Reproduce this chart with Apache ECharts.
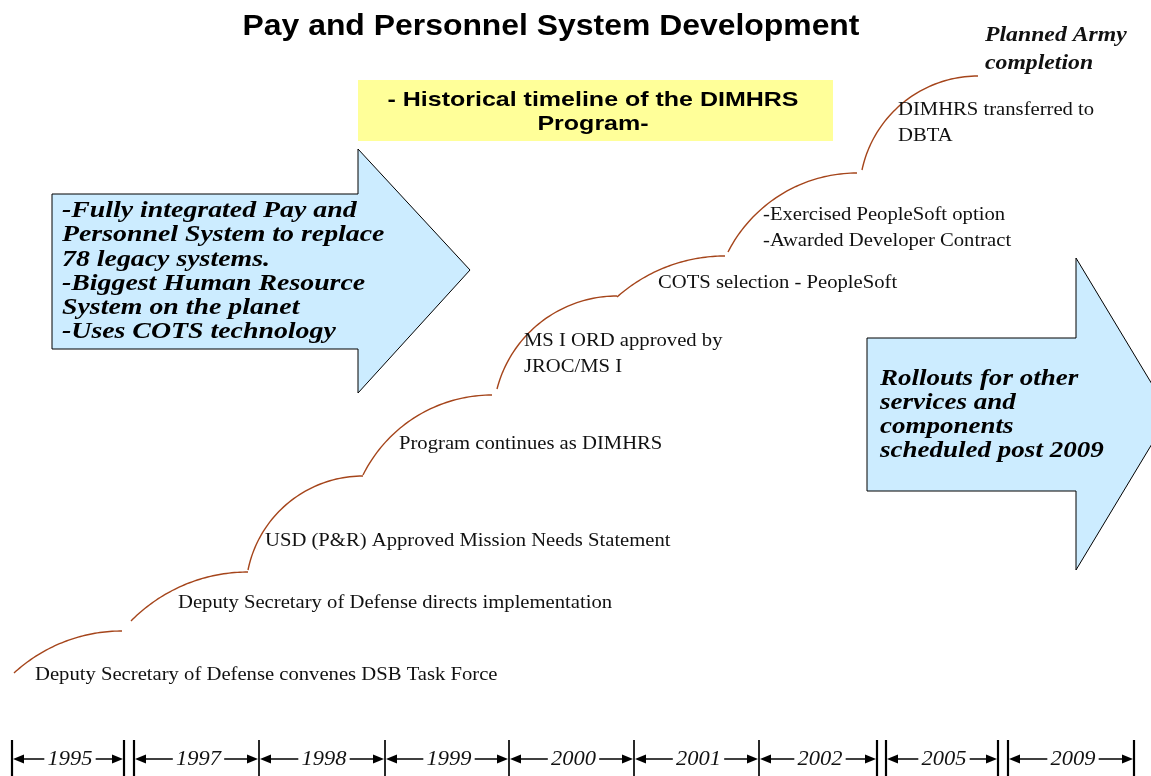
<!DOCTYPE html>
<html>
<head>
<meta charset="utf-8">
<script src="https://cdn.jsdelivr.net/npm/echarts@6/dist/echarts.min.js"></script>
<style>html,body{margin:0;padding:0;background:#fff}#chart{width:1151px;height:776px}</style>
</head>
<body>
<div id="chart"></div>
<script>
// ---- data ----
const years = ['1995', '1997', '1998', '1999', '2000', '2001', '2002', '2005', '2009'];
const yearFrom = [12, 134, 259, 385, 509, 634, 759, 886, 1008];
const yearTo = [124, 259, 385, 509, 634, 759, 877, 998, 1134];

const events = [
  'Deputy Secretary of Defense convenes DSB Task Force',
  'Deputy Secretary of Defense directs implementation',
  'USD (P&R) Approved Mission Needs Statement',
  'Program continues as DIMHRS',
  'MS I ORD approved by\nJROC/MS I',
  'COTS selection - PeopleSoft',
  '-Exercised PeopleSoft option\n-Awarded Developer Contract',
  'DIMHRS transferred to\nDBTA'
];
const eventFrom = [14, 131, 248, 363, 497, 617, 728, 862];
const eventTo = [122, 248, 363, 492, 617, 725, 857, 978];
const levelFrom = [103, 155, 206, 301, 387, 479, 524, 606];
const levelTo = [145, 204, 300, 381, 480, 520, 603, 700];
const finalMilestone = 'Planned Army\ncompletion';

const titleText = 'Pay and Personnel System Development';
const subtitleText = '- Historical timeline of the DIMHRS\nProgram-';
const leftArrowText = '-Fully integrated Pay and\nPersonnel System to replace\n78 legacy systems.\n-Biggest Human Resource\nSystem on the planet\n-Uses COTS technology';
const rightArrowText = 'Rollouts for other\nservices and\ncomponents\nscheduled post 2009';

// ---- layout / style ----
const SERIF = '"Liberation Serif", "DejaVu Serif", serif';
const SANS = '"Liberation Sans", Arial, sans-serif';
const TL_Y = 17, BAR_TOP = 36, BAR_BOTTOM = 0;
const labelOffset = [[21, -2], [47, 18], [17, 29], [36, 31], [27, 35], [41, 14], [35, 24], [36, 47]];
const finalOffset = [7, 26];
const ARC_COLOR = '#A5451B';

const chart = echarts.init(document.getElementById('chart'));

function timelineItem(params, api) {
  const i = params.dataIndex;
  const a = api.coord([api.value(0), TL_Y]);
  const b = api.coord([api.value(1), TL_Y]);
  const top = api.coord([0, BAR_TOP])[1];
  const bot = api.coord([0, BAR_BOTTOM])[1];
  const y = a[1];
  const gapLeft = i === 0 || yearFrom[i] !== yearTo[i - 1];
  const gapRight = i === years.length - 1 || yearTo[i] !== yearFrom[i + 1];
  const ah = 11, aw = 4.5;
  return {
    type: 'group',
    children: [
      { type: 'line', shape: { x1: a[0] + 4, y1: y, x2: b[0] - 4, y2: y }, style: { stroke: '#000', lineWidth: 1.3 } },
      { type: 'polygon', shape: { points: [[a[0] + 1, y], [a[0] + 1 + ah, y - aw], [a[0] + 1 + ah, y + aw]] }, style: { fill: '#000' } },
      { type: 'polygon', shape: { points: [[b[0] - 1, y], [b[0] - 1 - ah, y - aw], [b[0] - 1 - ah, y + aw]] }, style: { fill: '#000' } },
      { type: 'line', shape: { x1: a[0], y1: top, x2: a[0], y2: bot }, style: { stroke: '#000', lineWidth: gapLeft ? 2.2 : 1.2 } },
      { type: 'line', shape: { x1: b[0], y1: top, x2: b[0], y2: bot }, style: { stroke: '#000', lineWidth: gapRight ? 2.2 : 1.2 } },
      { type: 'text', z2: 10, x: (a[0] + b[0]) / 2 + 2, y: y, scaleX: 1.07,
        style: { text: years[i], x: 0, y: 0, align: 'center', verticalAlign: 'middle',
          font: 'italic 21px ' + SERIF, fill: '#111', backgroundColor: '#fff', padding: [0, 3] } }
    ]
  };
}

function arcPoints(p0, p1) {
  const dx = p1[0] - p0[0];
  const dy = p0[1] - p1[1];
  const R = (dx * dx + dy * dy) / (2 * dy);
  const cx = p1[0], cy = p1[1] + R;
  const a0 = Math.atan2(p0[1] - cy, p0[0] - cx);
  const a1 = -Math.PI / 2;
  const pts = [];
  const n = 48;
  for (let k = 0; k <= n; k++) {
    const t = a0 + (a1 - a0) * k / n;
    pts.push([cx + R * Math.cos(t), cy + R * Math.sin(t)]);
  }
  return pts;
}

function eventItem(params, api) {
  const i = params.dataIndex;
  const p0 = api.coord([api.value(0), api.value(2)]);
  const p1 = api.coord([api.value(1), api.value(3)]);
  const children = [
    { type: 'polyline', shape: { points: arcPoints(p0, p1) }, style: { stroke: ARC_COLOR, lineWidth: 1.4, fill: null } },
    { type: 'text', x: p0[0] + labelOffset[i][0], y: p0[1] - labelOffset[i][1], scaleX: 1.087,
      style: { text: events[i], x: 0, y: 0, align: 'left', verticalAlign: 'middle', font: '19px ' + SERIF, lineHeight: 26, fill: '#111' } }
  ];
  if (i === events.length - 1) {
    children.push({ type: 'text', x: p1[0] + finalOffset[0], y: p1[1] - finalOffset[1], scaleX: 1.13,
      style: { text: finalMilestone, x: 0, y: 0, align: 'left', verticalAlign: 'middle', font: 'italic bold 21px ' + SERIF, lineHeight: 28, fill: '#111' } });
  }
  return { type: 'group', children };
}

const option = {
  backgroundColor: '#fff',
  animation: false,
  grid: { left: 0, right: 0, top: 0, bottom: 0 },
  xAxis: { type: 'value', min: 0, max: 1151, show: false },
  yAxis: { type: 'value', min: 0, max: 776, show: false },
  graphic: [
    { type: 'text', x: 551, y: 27, scaleX: 1.1,
      style: { text: titleText, x: 0, y: 0, align: 'center', verticalAlign: 'middle', font: 'bold 29px ' + SANS, fill: '#000' } },
    { type: 'rect', shape: { x: 358, y: 80, width: 475, height: 61 }, style: { fill: '#FFFF99' }, z: -1 },
    { type: 'text', x: 593, y: 112, scaleX: 1.19,
      style: { text: subtitleText, x: 0, y: 0, align: 'center', verticalAlign: 'middle', font: 'bold 21px ' + SANS, lineHeight: 24, fill: '#000' } },
    { type: 'polygon', shape: { points: [[52, 194], [358, 194], [358, 149], [470, 270], [358, 393], [358, 349], [52, 349]] },
      style: { fill: '#CCECFF', stroke: '#000', lineWidth: 1 }, z: -1 },
    { type: 'text', x: 62, y: 271.5, scaleX: 1.16,
      style: { text: leftArrowText, x: 0, y: 0, align: 'left', verticalAlign: 'middle', font: 'italic bold 24px ' + SERIF, lineHeight: 24.3, fill: '#000' } },
    { type: 'polygon', shape: { points: [[867, 338], [1076, 338], [1076, 258], [1170, 414], [1076, 570], [1076, 491], [867, 491]] },
      style: { fill: '#CCECFF', stroke: '#000', lineWidth: 1 }, z: -1 },
    { type: 'text', x: 880, y: 414.5, scaleX: 1.126,
      style: { text: rightArrowText, x: 0, y: 0, align: 'left', verticalAlign: 'middle', font: 'italic bold 24px ' + SERIF, lineHeight: 24, fill: '#000' } }
  ],
  series: [
    {
      type: 'custom', name: 'timeline', renderItem: timelineItem,
      data: years.map((y, i) => [yearFrom[i], yearTo[i]]),
      encode: { x: [0, 1] }, silent: true
    },
    {
      type: 'custom', name: 'milestones', renderItem: eventItem,
      data: events.map((e, i) => [eventFrom[i], eventTo[i], levelFrom[i], levelTo[i]]),
      encode: { x: [0, 1], y: [2, 3] }, silent: true
    }
  ]
};
chart.setOption(option);
</script>
</body>
</html>
